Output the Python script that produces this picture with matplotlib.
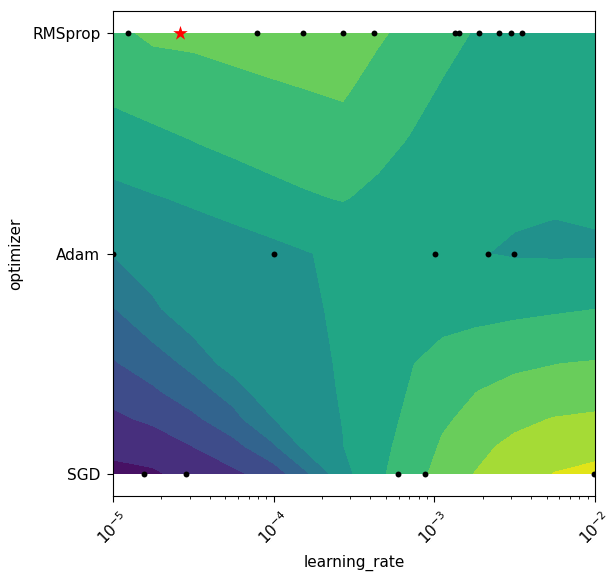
import numpy as np
import matplotlib
matplotlib.use("Agg")
import matplotlib.pyplot as plt

# --- categorical axis -------------------------------------------------------
optimizers = ["SGD", "Adam", "RMSprop"]

# --- trials (learning rate per optimizer) ------------------------------------
sgd_lr = [1.57e-5, 2.84e-5, 5.97e-4, 8.75e-4, 9.9e-3]
adam_lr = [1.0e-5, 1.0e-4, 1.01e-3, 2.17e-3, 3.13e-3]
rmsprop_lr = [1.24e-5, 7.83e-5, 1.52e-4, 2.69e-4, 4.21e-4, 1.35e-3,
              1.43e-3, 1.90e-3, 2.54e-3, 2.99e-3, 3.50e-3]
best_lr = 2.61e-5
best_optimizer = "RMSprop"

# --- contour surface (log10 learning rate x optimizer) ---
grid_log_lr = [-5.0, -4.75, -4.5, -4.25, -4.0, -3.8, -3.57, -3.35,
               -3.15, -2.95, -2.75, -2.5, -2.25, -2.0]
grid_opt_pos = [0.0, 0.125, 0.25, 0.375, 0.5, 0.75, 1.0, 1.25, 1.5, 1.75, 2.0]
objective_grid = [
    [0.72, 0.88, 1.32, 1.80, 2.45, 3.82, 5.67, 6.80, 7.60, 8.33, 9.02, 9.54, 10.03, 10.24],
    [1.27, 1.41, 2.01, 2.66, 3.865, 5.26, 5.975, 6.70, 7.38, 8.106, 8.70, 9.27, 9.55, 9.695],
    [1.80, 2.20, 2.80, 3.70, 4.99, 5.60, 6.02, 6.60, 7.20, 7.865, 8.238, 8.717, 9.053, 9.202],
    [2.34, 2.86, 3.58, 4.40, 5.95, 5.75, 6.05, 6.50, 7.057, 7.60, 7.97, 8.35, 8.225, 8.40],
    [2.90, 3.49, 4.27, 5.50, 5.75, 5.80, 6.07, 6.45, 6.927, 7.50, 7.62, 7.79, 7.99, 8.065],
    [3.95, 4.80, 5.77, 5.80, 5.85, 5.88, 6.12, 6.35, 6.55, 6.44, 6.663, 6.79, 6.88, 6.987],
    [5.05, 5.68, 5.60, 5.60, 5.80, 5.95, 6.20, 6.35, 6.35, 6.25, 6.04, 5.93, 5.898, 5.91],
    [5.75, 5.95, 6.09, 6.34, 6.535, 6.90, 7.047, 6.79, 6.60, 6.45, 6.30, 6.109, 6.06, 6.111],
    [6.45, 6.52, 6.97, 7.24, 7.65, 7.495, 7.566, 7.25, 6.93, 6.87, 6.76, 6.60, 6.45, 6.38],
    [7.27, 7.87, 7.65, 7.78, 7.91, 8.01, 8.14, 7.618, 7.32, 6.93, 6.88, 6.78, 6.65, 6.60],
    [7.95, 8.04, 8.19, 8.32, 8.45, 8.55, 8.67, 8.14, 7.71, 7.31, 6.95, 6.93, 6.86, 6.80],
]
contour_levels = list(range(12))

# --- figure -------------------------------------------------------------------
W, H = 607, 572
fig = plt.figure(figsize=(W / 100, H / 100), dpi=100)
rect = [113 / W, 76 / H, 482 / W, 485 / H]
x_lim = (1e-5, 1e-2)
y_lim = (-0.1, 2.1)

# contour drawn in log10(learning rate) units so it interpolates along the log axis
ax_c = fig.add_axes(rect, zorder=0)
ax_c.contourf(grid_log_lr, grid_opt_pos, np.array(objective_grid),
              levels=contour_levels, cmap="viridis")
ax_c.set_xlim(np.log10(x_lim[0]), np.log10(x_lim[1]))
ax_c.set_ylim(*y_lim)
ax_c.axis("off")

ax = fig.add_axes(rect, zorder=1)
ax.patch.set_alpha(0)
ax.set_xscale("log")

pos = {name: i for i, name in enumerate(optimizers)}
xs = sgd_lr + adam_lr + rmsprop_lr
ys = ([pos["SGD"]] * len(sgd_lr) + [pos["Adam"]] * len(adam_lr)
      + [pos["RMSprop"]] * len(rmsprop_lr))
ax.scatter(xs, ys, marker="o", c="black", s=18, linewidths=0, zorder=3)
ax.scatter([best_lr], [pos[best_optimizer]], marker="*", c="red", s=120,
           linewidths=0, zorder=4)

ax.set_xlim(*x_lim)
ax.set_ylim(*y_lim)
ax.set_yticks(range(len(optimizers)))
ax.set_yticklabels(optimizers)
ax.tick_params(which="major", labelsize=11, length=4, pad=5)
plt.setp(ax.get_xticklabels(), rotation=45)
ax.set_xlabel("learning_rate", fontsize=11, labelpad=5)
ax.set_ylabel("optimizer", fontsize=11, labelpad=6.5)

fig.savefig("out.png", dpi=100)
